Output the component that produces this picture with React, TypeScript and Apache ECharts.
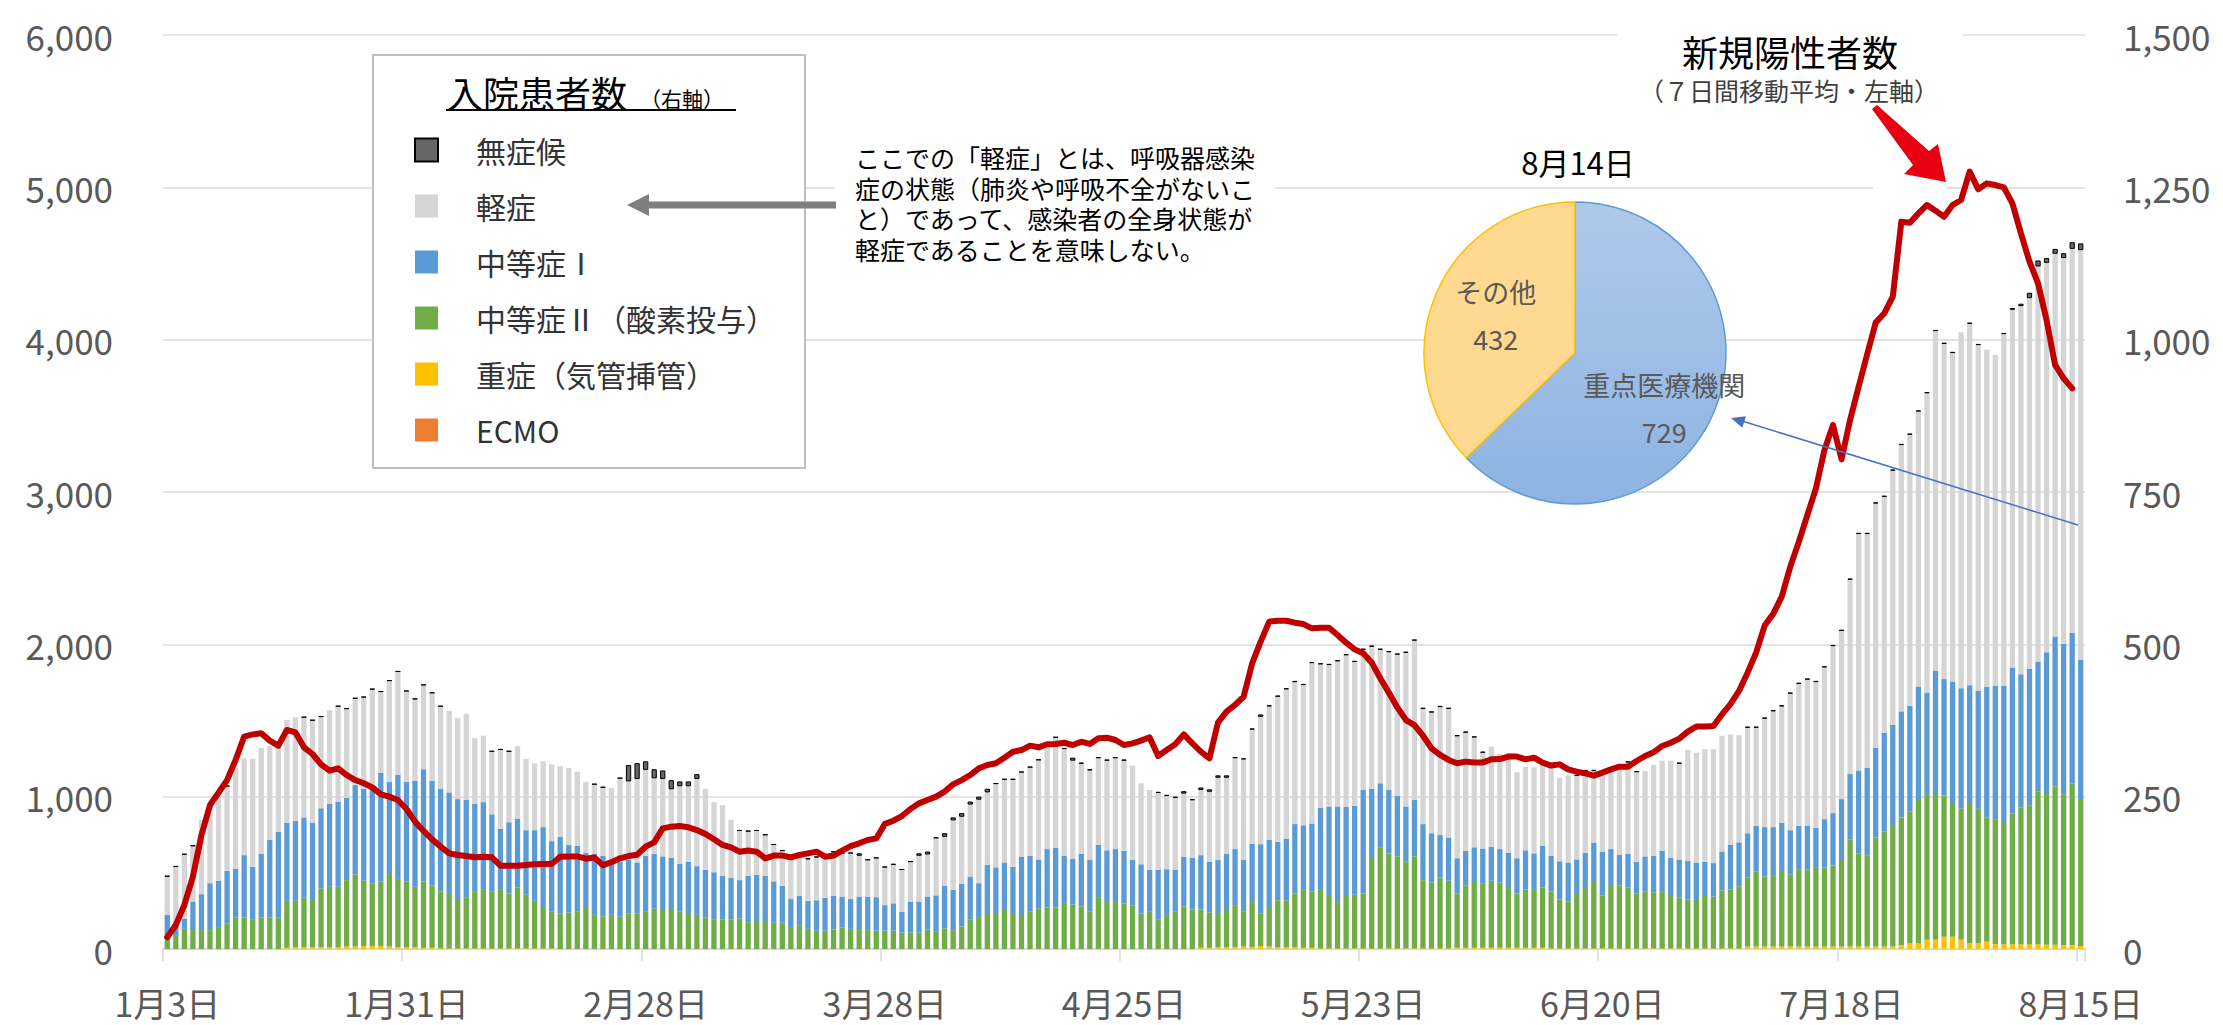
import React, { useEffect, useRef } from "react";
import * as echarts from "echarts";

// Dates: 2022-01-03 .. 2022-08-15 (225 days)
const dates: string[] = [];
for (let i = 0; i < 225; i++) {
  const d = new Date(2022, 0, 3 + i);
  dates.push(`${d.getMonth() + 1}月${d.getDate()}日`);
}

// 入院患者数（右軸）
const asymptomatic = [
  1,1,1,1,0,1,0,1,0,0, 0,0,0,1,0,0,1,1,1,0, 1,1,1,1,1,1,1,1,1,1,
  1,1,1,0,0,0,0,0,1,1, 1,0,0,0,0,0,0,0,0,0, 1,1,0,1,27,26,14,15,14,15,
  8,8,8,0,0,0,0,1,1,1, 1,1,1,0,0,2,2,0,1,1, 1,4,1,1,1,2,1,1,4,5,
  1,6,5,6,5,5,6,1,1,1, 1,1,1,0,1,2,5,2,2,2, 2,2,2,0,0,0,2,2,2,4,
  2,4,4,4,4,2,2,2,4,2, 2,2,2,2,2,2,2,2,2,2, 2,2,2,2,2,2,2,2,2,2,
  2,2,2,2,2,0,0,0,0,0, 0,0,0,0,0,2,2,2,0,0, 0,2,2,0,0,0,0,2,0,0,
  0,0,0,0,0,2,2,2,2,2, 2,2,2,2,2,2,2,2,2,2, 2,2,2,2,2,2,2,2,2,2,
  0,2,2,0,0,2,3,4,9,10, 8,8,8,11,11,
];
const mild = [
  63,95,105,91,122,125,138,139,165,159, 177,174,154,140,169,170,164,168,150,154,
  156,146,142,150,157,133,166,169,149,134, 138,144,135,134,133,141,108,109,103,130,
  116,119,117,110,108,126,116,126,122,116, 114,112,126,137,129,137,141,124,127,112,
  127,124,143,133,115,116,95,81,73,72, 67,60,57,70,65,68,70,68,72,71,
  75,67,60,64,62,63,69,65,75,69, 94,80,114,110,118,137,119,137,136,143,
  139,145,163,168,181,175,161,148,147,142, 147,149,148,155,133,131,126,120,118,104,
  94,107,115,135,125,149,165,187,209,219, 238,245,233,230,263,235,232,238,249,236,
  230,233,219,226,232,252,261,189,198,210, 211,200,194,180,157,164,156,164,141,137,
  141,136,146,137,143,137,134,118,129,131, 144,150,147,140,149,148,159,157,182,180,
  185,187,190,181,176,173,161,178,190,191, 224,233,240,239,249,274,276,319,388,384,
  401,387,417,437,445,451,491,557,550,539, 584,593,567,553,543,577,587,604,608,648,
  639,628,633,630,672,
];
const moderate1 = [
  36,17,17,47,59,77,76,86,80,102, 86,104,127,140,128,131,131,125,132,136,
  140,135,147,151,161,178,151,171,163,174, 184,172,169,165,164,160,143,144,127,100,
  117,113,106,116,131,115,126,111,107,89, 100,100,82,90,88,84,92,90,88,86,
  78,84,80,78,77,72,69,63,76,76, 74,68,61,46,49,46,50,54,55,51,
  49,55,55,55,42,45,34,51,51,54, 60,70,66,70,71,57,79,75,78,76,
  95,91,81,96,98,79,75,86,85,87, 85,87,86,75,81,69,81,75,69,81,
  85,89,83,87,92,92,85,96,114,110, 96,101,114,106,112,135,147,157,146,146,
  170,112,106,104,99,91,93,92,81,70, 71,58,57,57,57,56,55,58,58,64,
  60,68,59,63,64,55,58,64,72,59, 51,55,52,58,60,66,63,62,64,60,
  56,55,64,73,72,73,75,81,80,79, 73,71,72,66,79,86,100,107,136,143,
  147,162,166,174,173,185,168,201,191,201, 197,195,194,215,219,222,240,219,225,214,
  231,246,247,247,229,
];
const moderate2 = [
  20,23,33,31,31,31,36,42,52,52, 49,52,52,52,77,76,82,79,96,99,
  99,109,118,107,103,106,119,112,108,99, 109,102,93,91,81,84,94,96,93,96,
  90,100,88,78,68,61,58,60,62,69, 56,53,56,53,58,58,61,66,64,64,
  62,59,56,52,49,48,48,50,44,46, 46,43,43,36,38,33,30,30,32,35,
  33,31,31,30,30,30,27,27,27,32, 28,34,31,37,48,51,59,59,64,59,
  56,62,66,68,68,74,73,70,61,84, 77,77,75,71,58,61,49,56,61,70,
  65,63,58,56,61,69,57,74,53,65, 77,77,88,95,92,96,86,76,86,88,
  90,150,165,156,151,142,151,112,108,116, 111,89,102,108,106,110,107,98,89,96,
  95,99,93,80,77,91,99,109,87,104, 103,100,90,93,92,94,86,84,80,81,
  86,85,95,97,102,113,123,115,116,124, 118,127,126,129,130,133,142,176,153,150,
  179,189,198,210,217,236,238,241,232,218, 216,228,220,204,205,202,214,224,227,250,
  249,260,248,266,241,
];
const severe = [
  0,0,0,0,0,0,0,0,0,0, 0,0,0,0,2,3,3,3,3,3, 3,4,4,5,5,5,4,3,3,3,
  2,2,1,1,1,1,1,1,1,1, 1,1,1,1,1,1,0,0,0,0, 0,0,0,0,0,0,0,0,0,0,
  0,0,0,0,0,0,0,0,0,0, 0,0,0,0,0,0,0,0,0,0, 0,0,0,0,0,0,0,0,0,0,
  0,0,0,0,0,0,0,0,0,0, 0,0,0,0,0,0,0,0,0,0, 0,0,0,0,0,0,0,0,0,0,
  0,2,2,3,3,3,4,3,5,4, 3,3,3,2,2,1,1,1,1,1, 1,1,1,1,1,1,1,1,1,1,
  1,2,2,2,2,2,2,2,2,2, 2,2,1,1,1,1,1,1,1,1, 1,1,1,1,1,1,1,1,1,1,
  1,1,1,1,1,4,4,4,4,4, 4,4,4,4,4,4,4,4,4,4, 4,4,4,6,9,10,15,15,20,20,
  15,10,10,12,8,8,8,8,8,8, 7,7,6,6,5,
];
const ecmo = [
  0,0,0,0,0,0,0,0,0,0, 0,0,0,0,0,0,0,0,0,0, 0,0,0,0,0,0,0,0,0,0,
  0,0,0,0,0,0,0,0,0,0, 0,0,0,0,0,0,0,0,0,0, 0,0,0,0,0,0,0,0,0,0,
  0,0,0,0,0,0,0,0,0,0, 0,0,0,0,0,0,0,0,0,0, 0,0,0,0,0,0,0,0,0,0,
  0,0,0,0,0,0,0,0,0,0, 0,0,0,0,0,0,0,0,0,0, 0,0,0,0,0,0,0,0,0,0,
  0,0,0,0,0,0,0,0,0,0, 0,0,0,0,0,0,0,0,0,0, 0,0,0,0,0,0,0,0,0,0,
  0,0,0,0,0,0,0,0,0,0, 0,0,0,0,0,0,0,0,0,0, 0,0,0,0,0,0,0,0,0,0,
  0,0,0,0,0,0,0,0,0,0, 0,0,0,0,0,0,0,0,0,0, 0,0,0,0,0,0,0,0,0,0,
  0,0,0,0,0,0,0,0,0,0, 0,0,0,0,0,
];

// 新規陽性者数（７日間移動平均・左軸）
const newCases: (number | null)[] = [
  77,158,289,475,748,945,1026,1109,1241,1394, 1409,1416,1368,1335,1438,1422,1324,1280,1212,1171,
  1186,1142,1109,1088,1061,1015,1000,978,919,836, 775,720,672,628,617,610,602,606,602,547,
  547,547,551,556,558,558,606,608,608,593, 600,550,570,595,610,619,672,700,792,803,
  807,799,781,755,720,683,667,639,646,639, 595,613,613,602,617,628,639,606,613,646,
  676,694,716,726,821,842,873,919,956,978, 1000,1033,1081,1109,1142,1186,1208,1219,1256,1295,
  1306,1335,1324,1344,1346,1354,1339,1361,1346,1383, 1387,1372,1339,1350,1368,1389,1267,1306,1344,1409,
  1350,1295,1252,1486,1558,1602,1656,1875,2018,2149, 2155,2155,2142,2133,2105,2109,2109,2061,2011,1967,
  1941,1880,1777,1683,1586,1503,1470,1400,1317,1274, 1241,1219,1230,1225,1225,1245,1247,1263,1263,1245,
  1256,1223,1204,1212,1179,1164,1153,1138,1158,1179, 1197,1197,1234,1267,1291,1333,1354,1381,1427,1460,
  1460,1464,1540,1608,1694,1814,1945,2123,2200,2313, 2510,2674,2849,3024,3276,3440,3214,3473,3691,3904,
  4112,4173,4282,4775,4768,4829,4884,4847,4807,4884, 4917,5103,4987,5026,5015,5000,4895,4698,4512,4370,
  4129,3834,3746,3680,null,
];

// 8月14日 pie
const pieNames = ["重点医療機関", "その他"];
const pieValues = [729, 432];

const legendNames = ["無症候", "軽症", "中等症Ⅰ", "中等症Ⅱ（酸素投与）", "重症（気管挿管）", "ECMO"];

const noteLines = [
  "ここでの「軽症」とは、呼吸器感染",
  "症の状態（肺炎や呼吸不全がないこ",
  "と）であって、感染者の全身状態が",
  "軽症であることを意味しない。",
];

const FONT = '"Noto Sans CJK JP", "Noto Sans", sans-serif';

export default function App() {
  const ref = useRef<HTMLDivElement>(null);
  useEffect(() => {
    if (!ref.current) return;
    const chart = echarts.init(ref.current, undefined, { renderer: "svg" });
    const fmt = (v: number) => v.toLocaleString("en-US");
    const barBase = {
      type: "bar",
      stack: "inpatients",
      yAxisIndex: 1,
      barWidth: "62%",
      emphasis: { disabled: true },
      silent: true,
    };
    const noteTexts = noteLines.map((t, i) => ({
      type: "text",
      z: 6,
      x: 855,
      y: 157 + i * 30.7,
      style: { text: t, fontSize: 25, fontFamily: FONT, fill: "#000000", verticalAlign: "middle" },
    }));
    const option: any = {
      animation: false,
      backgroundColor: "#ffffff",
      textStyle: { fontFamily: FONT },
      grid: { left: 163, right: 138, top: 35, bottom: 76, containLabel: false },
      legend: {
        data: legendNames,
        orient: "vertical",
        left: 414,
        top: 135,
        padding: 0,
        itemWidth: 23,
        itemHeight: 23,
        itemGap: 26,
        icon: "rect",
        selectedMode: false,
        z: 6,
        textStyle: { fontSize: 30, color: "#333333", lineHeight: 30, padding: [0, 0, 0, 33], fontFamily: FONT },
      },
      xAxis: {
        type: "category",
        data: dates,
        boundaryGap: true,
        axisLine: { lineStyle: { color: "#D9D9D9", width: 2 } },
        axisTick: { show: true, interval: 27, length: 12, lineStyle: { color: "#D9D9D9", width: 1.5 } },
        axisLabel: { interval: 27, fontSize: 34, color: "#595959", margin: 36, fontFamily: FONT },
        splitLine: { show: false },
      },
      yAxis: [
        {
          type: "value",
          min: 0,
          max: 6000,
          interval: 1000,
          position: "left",
          axisLine: { show: false },
          axisTick: { show: false },
          axisLabel: { fontSize: 35, color: "#595959", margin: 50, formatter: fmt, fontFamily: FONT },
          splitLine: { lineStyle: { color: "#D9D9D9", width: 1.5 } },
        },
        {
          type: "value",
          min: 0,
          max: 1500,
          interval: 250,
          position: "right",
          axisLine: { show: false },
          axisTick: { show: false },
          axisLabel: { fontSize: 35, color: "#595959", margin: 38, formatter: fmt, fontFamily: FONT },
          splitLine: { show: false },
        },
      ],
      series: [
        { ...barBase, name: "ECMO", data: ecmo, itemStyle: { color: "#ED7D31" } },
        { ...barBase, name: "重症（気管挿管）", data: severe, itemStyle: { color: "#FFC000" } },
        { ...barBase, name: "中等症Ⅱ（酸素投与）", data: moderate2, itemStyle: { color: "#70AD47" } },
        { ...barBase, name: "中等症Ⅰ", data: moderate1, itemStyle: { color: "#5B9BD5" } },
        { ...barBase, name: "軽症", data: mild, itemStyle: { color: "#D5D5D5" } },
        {
          ...barBase,
          name: "無症候",
          data: asymptomatic.map((v) => (v ? v : null)),
          itemStyle: { color: "#666666", borderColor: "#000000", borderWidth: 1 },
        },
        {
          type: "line",
          name: "新規陽性者数",
          yAxisIndex: 0,
          data: newCases,
          symbol: "none",
          silent: true,
          lineStyle: { color: "#C00000", width: 6, join: "round", cap: "round" },
          z: 4,
        },
        {
          type: "pie",
          name: "8月14日",
          center: [1575, 353],
          radius: 151,
          startAngle: 90,
          clockwise: true,
          silent: true,
          z: 3,
          data: [
            {
              name: pieNames[0],
              value: pieValues[0],
              itemStyle: {
                color: new echarts.graphic.LinearGradient(0, 0, 0, 1, [
                  { offset: 0, color: "#AECAEA" },
                  { offset: 1, color: "#8DB3E2" },
                ]),
                borderColor: "#5B9BD5",
                borderWidth: 1.5,
              },
            },
            {
              name: pieNames[1],
              value: pieValues[1],
              itemStyle: { color: "#FFD98F", borderColor: "#FFC000", borderWidth: 1.5 },
            },
          ],
          label: {
            show: true,
            position: "inside",
            formatter: "{b}\n{c}",
            fontSize: 27,
            lineHeight: 47,
            color: "#595959",
            fontFamily: FONT,
          },
          labelLine: { show: false },
          labelLayout: (p: any) => (p.dataIndex === 0 ? { dx: 17, dy: 24 } : { dx: -7, dy: -7 }),
        },
      ],
      graphic: [
        // legend box
        { type: "rect", z: 1, shape: { x: 373, y: 55, width: 432, height: 413 }, style: { fill: "#ffffff", stroke: "#BFBFBF", lineWidth: 2 } },
        { type: "text", z: 6, x: 447, y: 92, style: { text: "入院患者数", fontSize: 36, fontFamily: FONT, fill: "#000000", verticalAlign: "middle" } },
        { type: "text", z: 6, x: 640, y: 98, style: { text: "（右軸）", fontSize: 21, fontFamily: FONT, fill: "#000000", verticalAlign: "middle" } },
        { type: "line", z: 6, shape: { x1: 446, y1: 110, x2: 736, y2: 110 }, style: { stroke: "#000000", lineWidth: 2 } },
        // note
        { type: "rect", z: 1, shape: { x: 835, y: 130, width: 440, height: 135 }, style: { fill: "#ffffff" } },
        ...noteTexts,
        { type: "line", z: 6, shape: { x1: 836, y1: 205, x2: 645, y2: 205 }, style: { stroke: "#7F7F7F", lineWidth: 7 } },
        { type: "polygon", z: 6, shape: { points: [[627, 205], [649, 194], [649, 216]] }, style: { fill: "#7F7F7F" } },
        // new cases title
        { type: "rect", z: 1, shape: { x: 1617, y: 28, width: 346, height: 77 }, style: { fill: "#ffffff" } },
        {
          type: "text",
          z: 6,
          x: 1790,
          y: 51,
          style: { text: "新規陽性者数", fontSize: 36, fontFamily: FONT, fill: "#000000", align: "center", verticalAlign: "middle" },
        },
        {
          type: "text",
          z: 6,
          x: 1789,
          y: 90,
          style: { text: "（７日間移動平均・左軸）", fontSize: 25, fontFamily: FONT, fill: "#404040", align: "center", verticalAlign: "middle" },
        },
        { type: "rect", z: 1, shape: { x: 1873, y: 104, width: 74, height: 86 }, style: { fill: "#ffffff" } },
        {
          type: "polygon",
          z: 6,
          shape: { points: [[1872, 109], [1877, 105], [1929, 151], [1938, 144], [1946, 182], [1904, 174], [1913, 165]] },
          style: { fill: "#E60012" },
        },
        // pie title
        {
          type: "text",
          z: 6,
          x: 1578,
          y: 161,
          style: { text: "8月14日", fontSize: 31, fontFamily: FONT, fill: "#000000", align: "center", verticalAlign: "middle" },
        },
        // blue pointer to pie
        { type: "line", z: 6, shape: { x1: 2078, y1: 525, x2: 1742, y2: 421 }, style: { stroke: "#4472C4", lineWidth: 1.5 } },
        { type: "polygon", z: 6, shape: { points: [[1731, 418], [1742.3, 427.8], [1745.9, 416.3]] }, style: { fill: "#4472C4" } },
      ],
    };
    chart.setOption(option);
    return () => chart.dispose();
  }, []);
  return (
    <div
      ref={ref}
      style={{ position: "fixed", left: 0, top: 0, width: 2223, height: 1025, background: "#ffffff" }}
    />
  );
}
